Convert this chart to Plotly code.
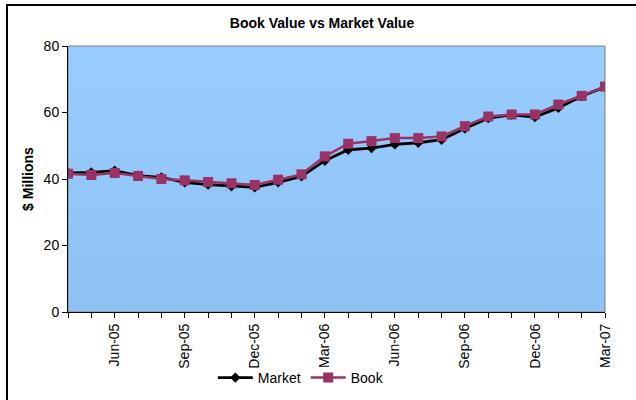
import plotly.graph_objects as go

# monthly values, $ millions
months = ["Apr-05", "May-05", "Jun-05", "Jul-05", "Aug-05", "Sep-05",
          "Oct-05", "Nov-05", "Dec-05", "Jan-06", "Feb-06", "Mar-06",
          "Apr-06", "May-06", "Jun-06", "Jul-06", "Aug-06", "Sep-06",
          "Oct-06", "Nov-06", "Dec-06", "Jan-07", "Feb-07", "Mar-07"]
market = [41.8, 42.0, 42.5, 41.0, 40.5, 39.0, 38.3, 37.8, 37.5, 39.0, 40.8, 45.5,
          48.8, 49.3, 50.4, 50.9, 51.8, 55.2, 58.3, 59.3, 58.6, 61.4, 64.9, 67.7]
book = [41.6, 41.2, 41.8, 40.9, 40.0, 39.6, 39.1, 38.7, 38.2, 39.8, 41.4, 46.8,
        50.6, 51.4, 52.3, 52.3, 52.8, 55.9, 58.8, 59.4, 59.4, 62.4, 65.0, 67.8]
shown_labels = ["Jun-05", "Sep-05", "Dec-05", "Mar-06", "Jun-06", "Sep-06", "Dec-06", "Mar-07"]
tick_text = [m if m in shown_labels else "" for m in months]

FONT = "Liberation Sans, Arial, sans-serif"

fig = go.Figure()
fig.add_trace(go.Scatter(x=months, y=market, name="Market", mode="lines+markers",
                         line=dict(color="black", width=2.8),
                         marker=dict(symbol="diamond", size=8, color="black")))
fig.add_trace(go.Scatter(x=months, y=book, name="Book", mode="lines+markers",
                         line=dict(color="#993366", width=2.5),
                         marker=dict(symbol="square", size=10, color="#993366")))

# vertical gradient for the plot area (light blue top -> slightly deeper bottom)
top = (153, 204, 255)
bottom = (142, 194, 244)
steps = 40
shapes = []
for i in range(steps):
    t = i / (steps - 1)
    c = tuple(round(top[k] + (bottom[k] - top[k]) * t) for k in range(3))
    shapes.append(dict(type="rect", xref="x domain", yref="y domain",
                       x0=0, x1=1, y0=1 - (i + 1) / steps, y1=1 - i / steps,
                       fillcolor="rgb(%d,%d,%d)" % c, line=dict(width=0), layer="below"))
# grey frame round the plot area
shapes.append(dict(type="rect", xref="x domain", yref="y domain", x0=0, x1=1, y0=0, y1=1,
                   line=dict(color="#808080", width=1), layer="below"))
# outer chart border (only left and top are in view)
shapes.append(dict(type="path", xref="paper", yref="paper",
                   path="M -0.1136,-0.5 L -0.1136,1.154 L 1.2,1.154",
                   line=dict(color="black", width=2)))

fig.update_layout(
    width=636, height=400,
    margin=dict(l=68, r=31, t=46, b=88),
    paper_bgcolor="white",
    plot_bgcolor="rgb(142,194,244)",
    font=dict(family=FONT, size=14, color="black"),
    title=dict(text="<b>Book Value vs Market Value</b>", x=0.473, xref="paper",
               xanchor="center", y=0.9425, yanchor="middle", font=dict(size=14)),
    shapes=shapes,
    showlegend=True,
    legend=dict(orientation="h", xref="container", yref="container",
                x=0.473, xanchor="center", y=0.055, yanchor="middle",
                bgcolor="rgba(0,0,0,0)", font=dict(size=14), itemwidth=35),
)
fig.update_xaxes(type="category", range=[0, len(months) - 1],
                 tickmode="array", tickvals=months, ticktext=tick_text,
                 tickangle=-90, ticks="outside", ticklen=5, tickcolor="black",
                 showline=True, linecolor="black", linewidth=1, automargin=False,
                 showgrid=False, zeroline=False, tickfont=dict(size=14))
fig.update_yaxes(range=[0, 80], dtick=20, ticks="outside", ticklen=5, tickcolor="black",
                 showline=True, linecolor="black", linewidth=1, automargin=False,
                 showgrid=False, zeroline=False, tickfont=dict(size=14),
                 title=dict(text="<b>$ Millions</b>", standoff=6, font=dict(size=14)))

# page body margin would shift the chart by 8px
fig.write_html("out.html", config={"displayModeBar": False},
               post_script="document.body.style.margin='0';")
